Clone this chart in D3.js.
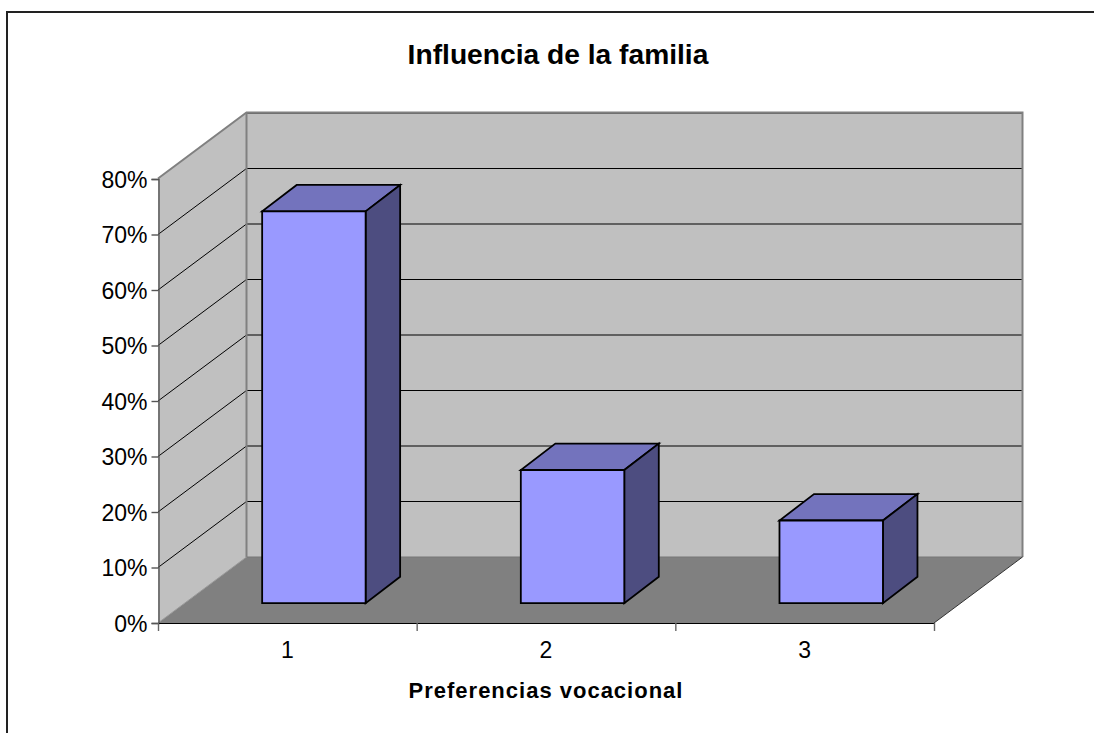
<!DOCTYPE html>
<html><head><meta charset="utf-8">
<script src="https://cdn.jsdelivr.net/npm/d3@7/dist/d3.min.js"></script>
<style>html,body{margin:0;padding:0;background:#fff}svg{display:block}text{font-family:"Liberation Sans",Arial,sans-serif;fill:#000}</style>
</head><body><svg id="c" width="1094" height="733"></svg>
<script>
const categories = ["1","2","3"];
const values = [70.6,24,14.9];
const yTicks = [0,10,20,30,40,50,60,70,80];
const titleText = "Influencia de la familia";
const xTitleText = "Preferencias vocacional";

const svg = d3.select("#c");
const x0=158,x1=934,yB=623,yT=179,dx=88.5,dy=-66;
const y=d3.scaleLinear().domain([0,80]).range([yB,yT]);
const x=d3.scaleBand().domain(categories).range([x0,x1]).paddingInner(0.6).paddingOuter(0.3);
const band=d3.scaleBand().domain(categories).range([x0,x1]);
const line=d3.line();
const poly=(pts,fill,stroke,w)=>svg.append("path").attr("d",line(pts)+"Z").attr("fill",fill).attr("stroke",stroke||"none").attr("stroke-width",w||0).attr("stroke-linejoin","miter");

// frame
svg.append("path").attr("d","M7,733V12H1094").attr("fill","none").attr("stroke","#222").attr("stroke-width",2);

// walls
poly([[x0+dx,yB+dy],[x1+dx,yB+dy],[x1+dx,yT+dy],[x0+dx,yT+dy]],"#c0c0c0");
poly([[x0,yB],[x0+dx,yB+dy],[x0+dx,yT+dy],[x0,yT]],"#c0c0c0");
// floor
poly([[x0,yB],[x1,yB],[x1+dx,yB+dy],[x0+dx,yB+dy]],"#808080");
// gridlines
yTicks.slice(1,-1).forEach(t=>{
  svg.append("path").attr("d",line([[x0,y(t)],[x0+dx,y(t)+dy],[x1+dx,y(t)+dy]])).attr("fill","none").attr("stroke","#000").attr("stroke-width",1);
});
svg.append("path").attr("d",line([[x0+dx,y(80)+dy],[x1+dx,y(80)+dy]])).attr("fill","none").attr("stroke","#000").attr("stroke-width",1);
// wall edges
const grey="#808080";
svg.append("path").attr("d",line([[x0,yT-.5],[x0+dx,yT+dy-.5],[x1+dx,yT+dy-.5],[x1+dx,yB+dy]])).attr("fill","none").attr("stroke",grey).attr("stroke-width",2);
svg.append("path").attr("d",line([[x0+dx,yT+dy],[x0+dx,yB+dy]])).attr("fill","none").attr("stroke",grey).attr("stroke-width",2);
svg.append("path").attr("d",line([[x0+dx,yB+dy],[x1+dx,yB+dy]])).attr("fill","none").attr("stroke","#777").attr("stroke-width",1);
svg.append("path").attr("d",line([[x1,yB],[x1+dx,yB+dy]])).attr("fill","none").attr("stroke","#333").attr("stroke-width",1);
svg.append("path").attr("d",line([[x0,yB],[x0+dx,yB+dy]])).attr("fill","none").attr("stroke","#999").attr("stroke-width",1);

// axes
const yAxis=d3.axisLeft(y).tickValues(yTicks).tickFormat(d=>d+"%").tickSize(7).tickPadding(4);
const ya=svg.append("g").attr("transform",`translate(${x0+.5},0)`).call(yAxis);
ya.selectAll("path,line").attr("stroke","#555").attr("stroke-width",1.4);
ya.selectAll("text").style("font-size","23px").attr("dy","0.36em");

svg.append("line").attr("x1",x0).attr("x2",x1).attr("y1",yB+.5).attr("y2",yB+.5).attr("stroke","#000").attr("stroke-width",1);
const xAxis=d3.axisBottom(band).tickSize(0).tickPadding(0);
const xa=svg.append("g").attr("transform",`translate(0,${yB})`).call(xAxis);
xa.select("path").remove();
xa.selectAll("text").style("font-size","23px").attr("dy",0).attr("y",35);
const edges=[...categories.map(c=>band(c)),x1];
svg.selectAll(".xt").data(edges).join("line").attr("class","xt").attr("x1",d=>d+.5).attr("x2",d=>d+.5).attr("y1",yB).attr("y2",yB+8).attr("stroke","#666").attr("stroke-width",1.4);

// bars
const fx=dx*0.3, fy=dy*0.3, bx=dx*0.39, by=dy*0.4;
categories.forEach((c,i)=>{
  const l=x(c)+fx, r=l+x.bandwidth(), b=y(0)+fy, t=y(values[i])+fy;
  const g=1.8;
  poly([[l,t],[r,t],[r+bx,t+by],[l+bx,t+by]],"#7373bd","#000",g);
  poly([[r,t],[r+bx,t+by],[r+bx,b+by],[r,b]],"#4d4d80","#000",g);
  poly([[l,t],[r,t],[r,b],[l,b]],"#9999ff","#000",g);
});

svg.append("text").attr("x",558).attr("y",64).attr("text-anchor","middle").style("font-size","28.2px").style("font-weight","bold").text(titleText);
svg.append("text").attr("x",546).attr("y",698).attr("text-anchor","middle").style("font-size","22px").style("letter-spacing","1px").style("font-weight","bold").text(xTitleText);
</script></body></html>
